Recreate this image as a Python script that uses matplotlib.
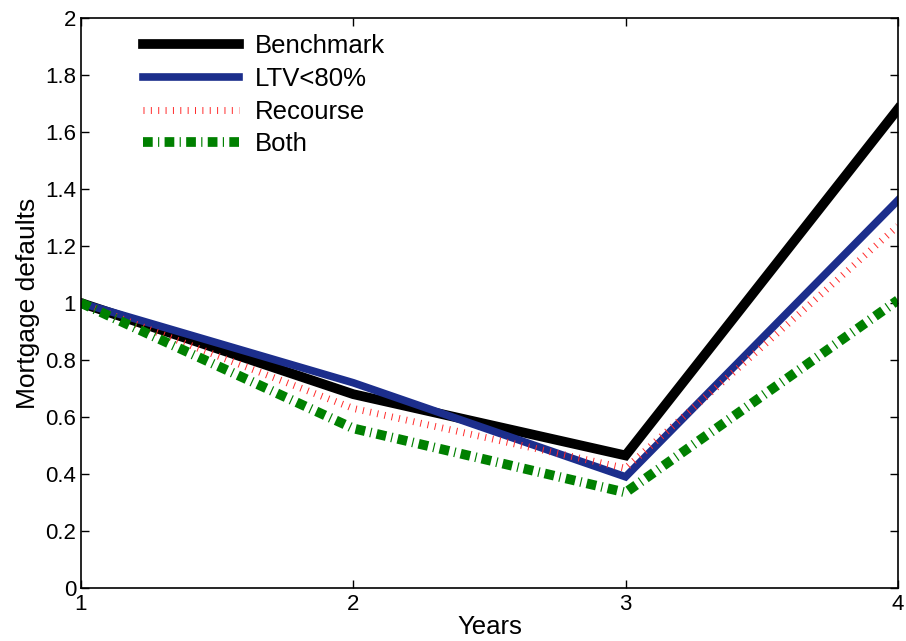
import matplotlib
matplotlib.use('Agg')
from matplotlib import pyplot as plt
from matplotlib.ticker import FormatStrFormatter
import numpy as np

plt.rcParams['font.family'] = ['Liberation Sans', 'DejaVu Sans']

years = [1, 2, 3, 4]
benchmark = [1.0, 0.68, 0.465, 1.68]
ltv80 = [1.0, 0.72, 0.39, 1.36]
recourse = [1.0, 0.63, 0.42, 1.27]
both = [1.0, 0.56, 0.335, 1.01]

fig = plt.figure(figsize=(9.06, 6.41), dpi=100)
ax = fig.add_axes([0.0894, 0.0827, 0.9016, 0.8893])

ax.plot(years, benchmark, color='black', lw=7, solid_joinstyle='miter', label='Benchmark')
ax.plot(years, ltv80, color='#1c2e8c', lw=5.5, solid_joinstyle='miter', label='LTV<80%')
ax.plot(years, recourse, color='#ff2a2a', lw=5, dashes=(0.14, 0.92),
        dash_capstyle='butt', label='Recourse')
ax.plot(years, both, color='#008000', lw=7, dashes=(1.0, 0.55, 0.12, 0.55),
        dash_capstyle='butt', label='Both')

ax.set_xlim(1, 4)
ax.set_ylim(0, 2)
ax.set_xticks([1, 2, 3, 4])
ax.set_yticks(np.arange(0, 2.01, 0.2))
ax.yaxis.set_major_formatter(FormatStrFormatter('%g'))
ax.tick_params(direction='in', length=6, width=1, labelsize=16, top=True, right=True)
ax.tick_params(axis='x', pad=4)
for s in ax.spines.values():
    s.set_linewidth(1.2)

ax.set_xlabel('Years', fontsize=18.5, labelpad=0)
ax.set_ylabel('Mortgage defaults', fontsize=19, labelpad=4)

ax.legend(loc='upper left', bbox_to_anchor=(0.047, 1.012), frameon=False, fontsize=18.5,
          handlelength=3.75, handletextpad=0.62, labelspacing=0.34)

fig.savefig('out.png', dpi=100)
